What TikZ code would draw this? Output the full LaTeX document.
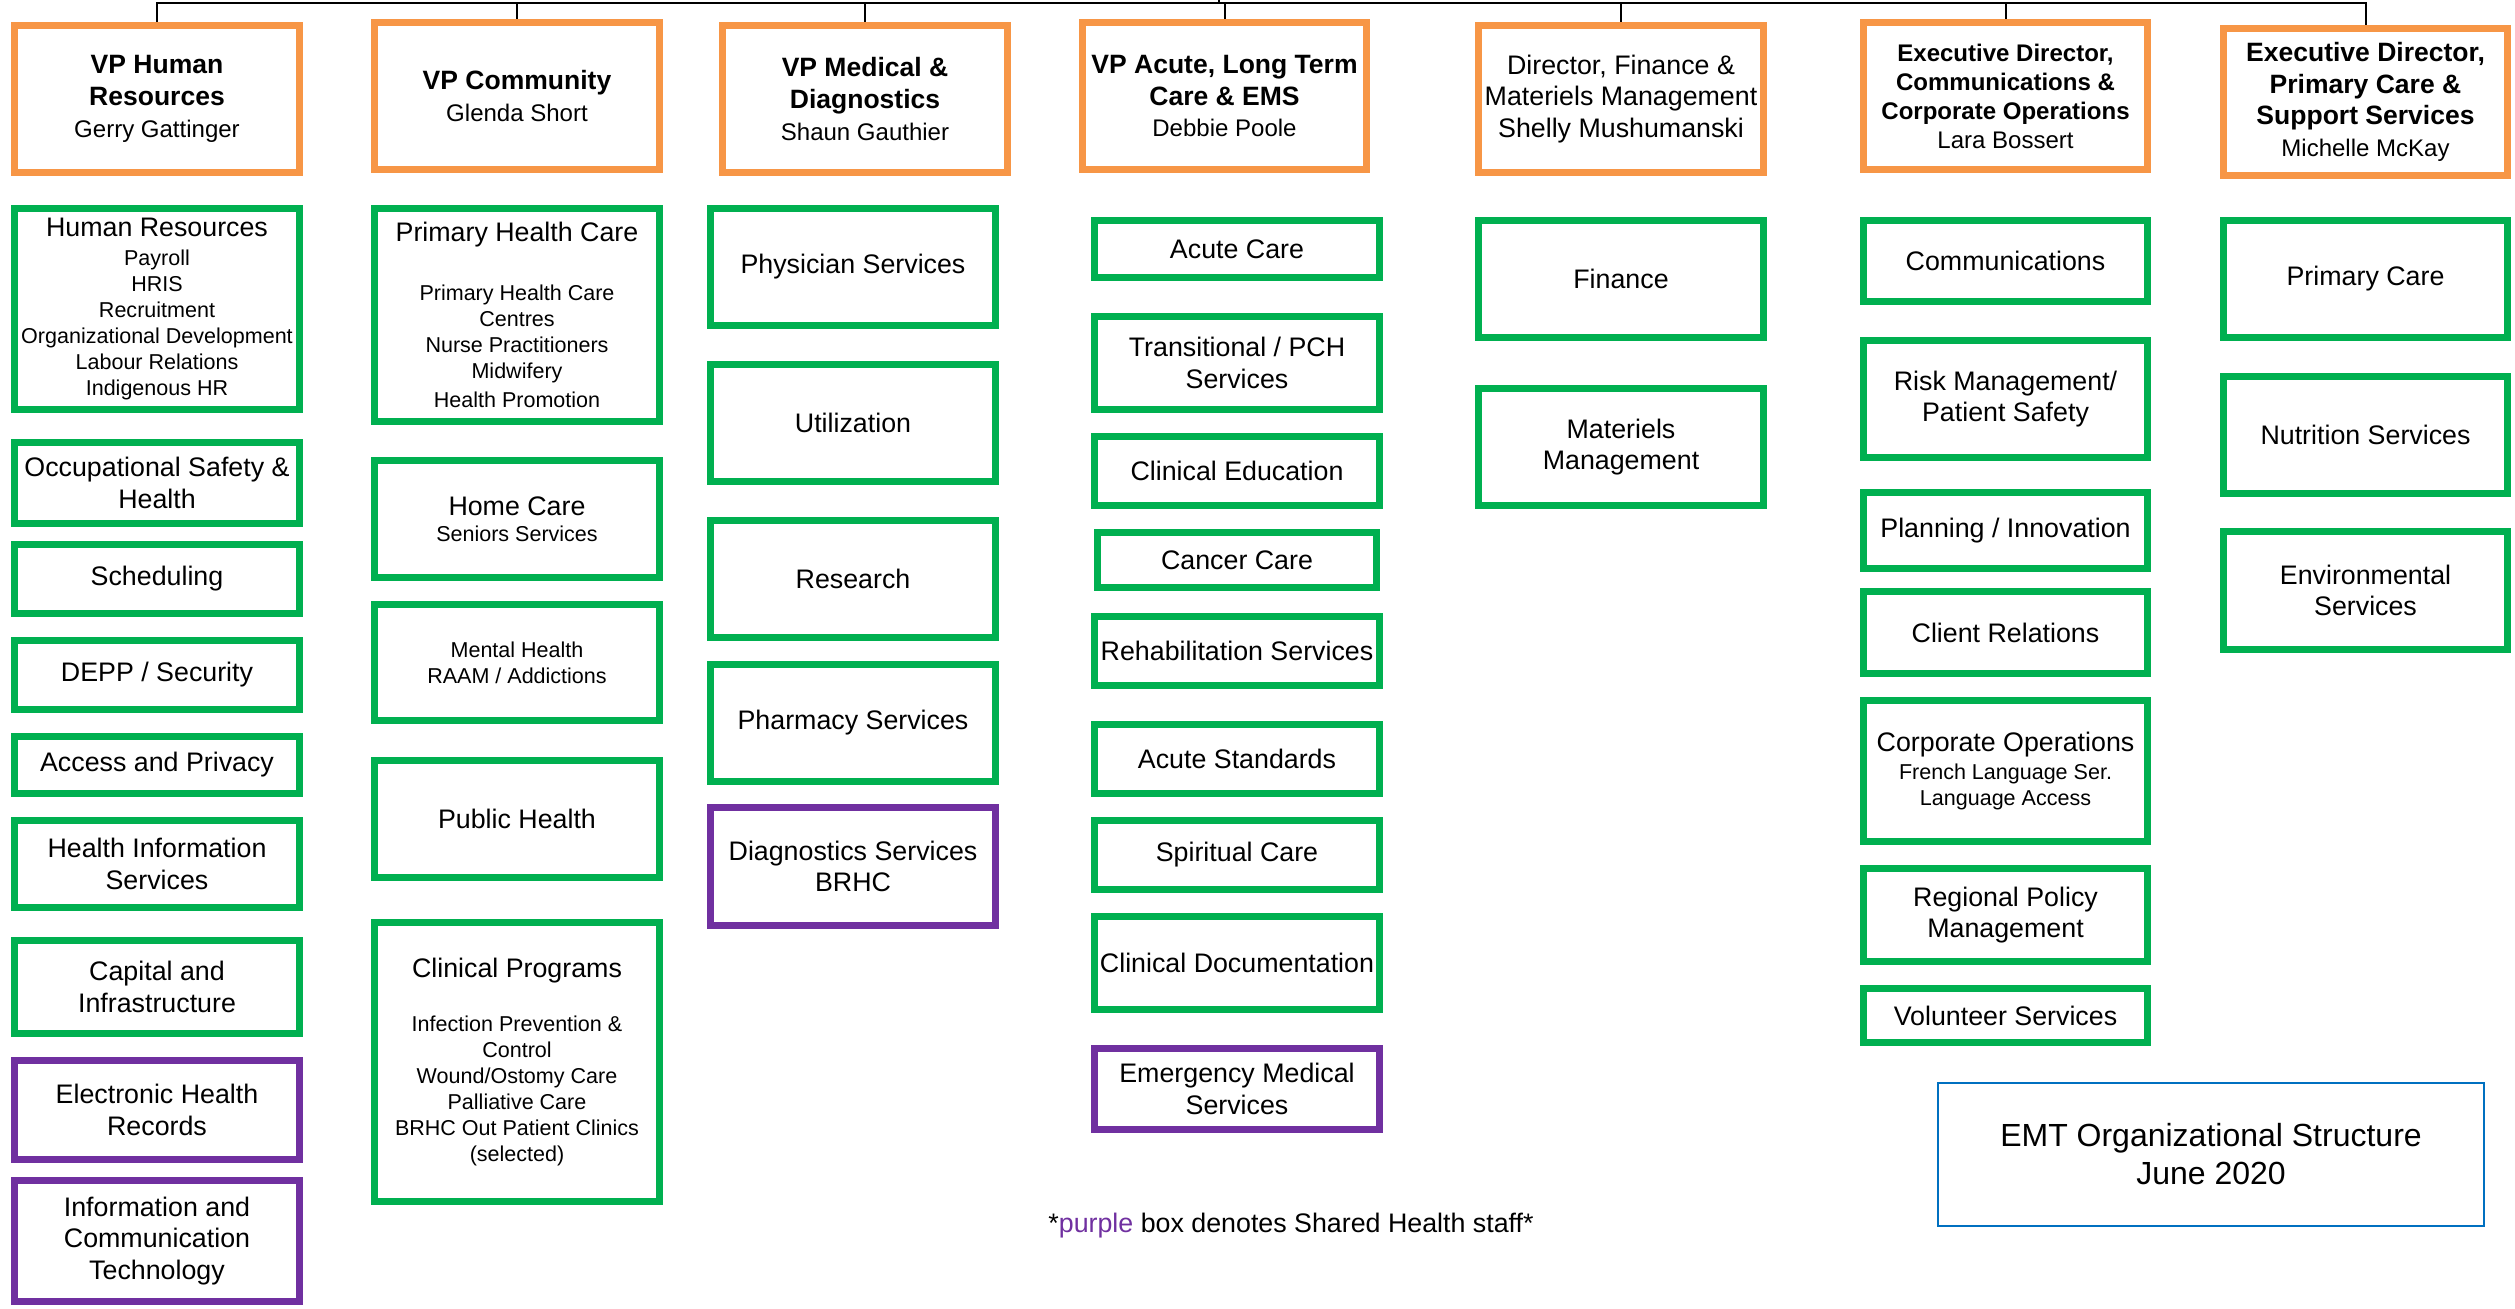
\documentclass[tikz,border=0pt]{standalone}
\usepackage{fontspec}
\setmainfont{Liberation Sans}
\usetikzlibrary{calc}
\usetikzlibrary{positioning}
\definecolor{vporange}{HTML}{F79646}
\definecolor{unitgreen}{HTML}{00B050}
\definecolor{sharedpurple}{HTML}{7030A0}
\definecolor{titleblue}{HTML}{0070C0}
\newcommand{\unitfont}{\fontsize{7.62}{9.0}\selectfont}
\newcommand{\subfont}{\fontsize{6.12}{7.4}\selectfont}
\newcommand{\headfont}{\fontsize{7.54}{9.0}\selectfont\bfseries}
\newcommand{\smallheadfont}{\fontsize{6.83}{8.25}\selectfont\bfseries}
\newcommand{\namefont}{\fontsize{6.83}{8.0}\selectfont\mdseries}
\newcommand{\emtfont}{\fontsize{9.1}{10.8}\selectfont}
\tikzstyle{orgbox} = [draw, rectangle, line width=0.07cm, fill=white, inner sep=1pt, align=center, minimum width=2.85cm, text=black]
\tikzstyle{vpbox} = [orgbox, draw=vporange, font=\headfont, minimum height=1.47cm]
\tikzstyle{unitbox} = [orgbox, draw=unitgreen, font=\unitfont]
\tikzstyle{sharedbox} = [orgbox, draw=sharedpurple, font=\unitfont]
\tikzstyle{listbox} = [unitbox, font=\subfont]
\tikzstyle{link} = [draw, black, line width=0.02cm]
\begin{document}
\begin{tikzpicture}[x=0.01cm, y=-0.01cm]
    \useasboundingbox (0,0) rectangle (2515,1308);

    % human resources
    \node[vpbox] (hr_vp) at (157,99) {VP Human\\Resources\\\namefont Gerry Gattinger};
    \node[listbox, minimum height=2.01cm] (hr_main) at (157,309)
{\unitfont Human Resources\\[0.6pt]Payroll\\HRIS\\Recruitment\\Organizational Development\\Labour Relations\\Indigenous HR};
    \node[unitbox, minimum height=0.81cm] (hr_osh) at (157,483) {Occupational Safety \&\\Health};
    \node[unitbox, minimum height=0.69cm] (hr_sched) at (157,579) {Scheduling};
    \node[unitbox, minimum height=0.69cm] (hr_depp) at (157,675) {DEPP / Security};
    \node[unitbox, minimum height=0.57cm] (hr_access) at (157,765) {Access and Privacy};
    \node[unitbox, minimum height=0.87cm] (hr_his) at (157,864) {Health Information\\Services};
    \node[unitbox, minimum height=0.93cm] (hr_capital) at (157,987) {Capital and\\Infrastructure};
    \node[sharedbox, minimum height=0.99cm] (hr_ehr) at (157,1110) {Electronic Health\\Records};
    \node[sharedbox, minimum height=1.21cm] (hr_ict) at (157,1241) {Information and\\Communication\\Technology};

    % community
    \node[vpbox] (com_vp) at (517,96) {VP Community\\\namefont Glenda Short};
    \node[listbox, minimum height=2.13cm] (com_phc) at (517,315)
{\unitfont Primary Health Care\\[9.4pt]Primary Health Care\\Centres\\Nurse Practitioners\\Midwifery\\[0.8pt]Health Promotion};
    \node[listbox, minimum height=1.17cm] (com_home) at (517,519) {\unitfont Home Care\\Seniors Services};
    \node[listbox, minimum height=1.16cm] (com_mental) at (517,662.5) {Mental Health\\RAAM / Addictions};
    \node[unitbox, minimum height=1.17cm] (com_public) at (517,819) {Public Health};
    \node[listbox, minimum height=2.79cm] (com_clinical) at (517,1062)
{\unitfont Clinical Programs\\[8pt]Infection Prevention \&\\Control\\Wound/Ostomy Care\\Palliative Care\\BRHC Out Patient Clinics\\(selected)};

    % medical and diagnostics
    \node[vpbox] (med_vp) at (865,99) {VP Medical \&\\Diagnostics\\\namefont Shaun Gauthier};
    \node[unitbox, minimum height=1.17cm] (med_phys) at (853,267) {Physician Services};
    \node[unitbox, minimum height=1.17cm] (med_util) at (853,423) {Utilization};
    \node[unitbox, minimum height=1.17cm] (med_research) at (853,579) {Research};
    \node[unitbox, minimum height=1.17cm] (med_pharm) at (853,723) {Pharmacy Services};
    \node[sharedbox, minimum height=1.18cm] (med_diag) at (853,866.5) {Diagnostics Services\\BRHC};

    % acute, long term care and EMS
    \node[vpbox, minimum width=2.84cm] (ac_vp) at (1224.5,96) {VP Acute, Long Term\\Care \& EMS\\\namefont Debbie Poole};
    \node[unitbox, minimum height=0.57cm] (ac_acute) at (1237,249) {Acute Care};
    \node[unitbox, minimum height=0.93cm] (ac_trans) at (1237,363) {Transitional / PCH\\Services};
    \node[unitbox, minimum height=0.69cm] (ac_educ) at (1237,471) {Clinical Education};
    \node[unitbox, minimum height=0.55cm, minimum width=2.79cm] (ac_cancer) at (1237,560) {Cancer Care};
    \node[unitbox, minimum height=0.69cm] (ac_rehab) at (1237,651) {Rehabilitation Services};
    \node[unitbox, minimum height=0.69cm] (ac_std) at (1237,759) {Acute Standards};
    \node[unitbox, minimum height=0.69cm] (ac_spirit) at (1237,855) {Spiritual Care};
    \node[unitbox, minimum height=0.93cm] (ac_doc) at (1237,963) {Clinical Documentation};
    \node[sharedbox, minimum height=0.81cm] (ac_ems) at (1237,1089) {Emergency Medical\\Services};

    % finance and materiels
    \node[vpbox, font=\unitfont] (fin_vp) at (1621,99) {Director, Finance \&\\Materiels Management\\Shelly Mushumanski};
    \node[unitbox, minimum height=1.17cm] (fin_fin) at (1621,279) {Finance};
    \node[unitbox, minimum height=1.17cm] (fin_mat) at (1621,447) {Materiels\\Management};

    % communications and corporate operations
    \node[vpbox, font=\smallheadfont, minimum width=2.84cm] (cor_vp) at (2005.5,96)
{Executive Director,\\Communications \&\\Corporate Operations\\\namefont Lara Bossert};
    \node[unitbox, minimum height=0.81cm, minimum width=2.84cm] (cor_comm) at (2005.5,261) {Communications};
    \node[unitbox, minimum height=1.17cm, minimum width=2.84cm] (cor_risk) at (2005.5,399) {Risk Management/\\Patient Safety};
    \node[unitbox, minimum height=0.76cm, minimum width=2.84cm] (cor_plan) at (2005.5,530.5) {Planning / Innovation};
    \node[unitbox, minimum height=0.82cm, minimum width=2.84cm] (cor_client) at (2005.5,632.5) {Client Relations};
    \node[listbox, minimum height=1.41cm, minimum width=2.84cm] (cor_ops) at (2005.5,771)
{\unitfont Corporate Operations\\[0.6pt]French Language Ser.\\Language Access};
    \node[unitbox, minimum height=0.93cm, minimum width=2.84cm] (cor_policy) at (2005.5,915) {Regional Policy\\Management};
    \node[unitbox, minimum height=0.54cm, minimum width=2.84cm] (cor_vol) at (2005.5,1015.5) {Volunteer Services};

    % primary care and support services
    \node[vpbox, minimum width=2.84cm] (pc_vp) at (2365.5,102)
{Executive Director,\\Primary Care \&\\Support Services\\\namefont Michelle McKay};
    \node[unitbox, minimum height=1.17cm, minimum width=2.84cm] (pc_primary) at (2365.5,279) {Primary Care};
    \node[unitbox, minimum height=1.17cm, minimum width=2.84cm] (pc_nutr) at (2365.5,435) {Nutrition Services};
    \node[unitbox, minimum height=1.18cm, minimum width=2.84cm] (pc_env) at (2365.5,590.5) {Environmental\\Services};

    % title and note
    \node[draw=titleblue, line width=0.02cm, minimum width=5.46cm, minimum height=1.43cm, align=center, font=\emtfont] (emt_title) at (2211,1154.5)
{EMT Organizational Structure\\June 2020};
    \node[font=\unitfont] (shared_note) at (1291,1226) {*\textcolor{sharedpurple}{purple} box denotes Shared Health staff*};

    % reporting lines
    \coordinate (bus) at (0,3);
    \coordinate (ceo_stub) at (1219,0);
    \draw[link] (hr_vp.north) -- (hr_vp.north |- bus) -- (pc_vp.north |- bus) -- (pc_vp.north);
    \foreach \vp in {com_vp, med_vp, ac_vp, fin_vp, cor_vp}
        \draw[link] (\vp.north) -- (\vp.north |- bus);
    \draw[link] (ceo_stub) -- (ceo_stub |- bus);
\end{tikzpicture}
\end{document}
